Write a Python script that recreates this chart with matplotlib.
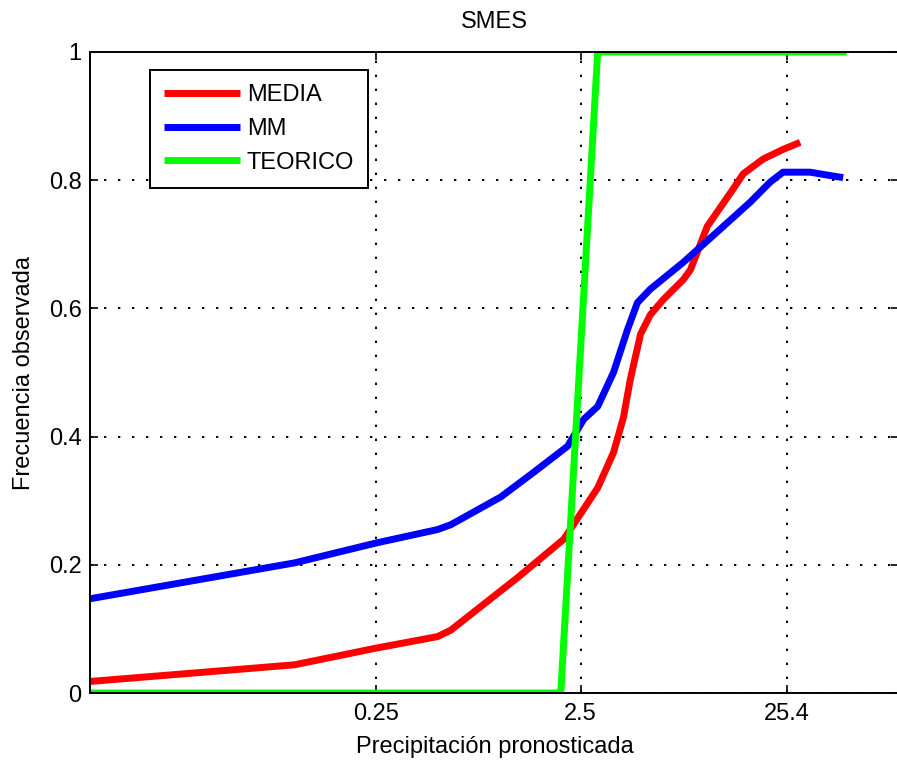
import matplotlib
matplotlib.use('Agg')
import matplotlib.pyplot as plt
from matplotlib.ticker import FixedLocator, FixedFormatter, NullLocator

plt.rcParams['font.family'] = ['Liberation Sans', 'DejaVu Sans']

# ---------------------- DATA
media_x = [0.01, 0.1, 0.25, 0.5, 0.58, 1.23, 2.07, 3.03, 3.62, 4.05, 4.38, 4.91,
           5.48, 6.35, 7.95, 8.6, 10.4, 13.9, 15.6, 19.5, 24.4, 29.6]
media_y = [0.018, 0.044, 0.07, 0.088, 0.098, 0.18, 0.24, 0.32, 0.375, 0.43, 0.49, 0.56,
           0.59, 0.614, 0.645, 0.66, 0.728, 0.786, 0.81, 0.833, 0.848, 0.859]

mm_x = [0.01, 0.1, 0.25, 0.5, 0.58, 1.02, 1.47, 2.16, 2.59, 3.03, 3.62, 4.24,
        4.74, 5.48, 7.95, 11.6, 16.9, 21.1, 24.4, 33.1, 40.1, 48]
mm_y = [0.147, 0.203, 0.234, 0.255, 0.2625, 0.306, 0.344, 0.385, 0.427, 0.447, 0.5, 0.567,
        0.609, 0.63, 0.672, 0.719, 0.766, 0.797, 0.8125, 0.8125, 0.808, 0.804]

teo_x = [0.01, 2.0, 3.03, 50]
teo_y = [0, 0, 1, 1]

xticks = [0.25, 2.5, 25.4]
xtick_labels = ['0.25', '2.5', '25.4']
yticks = [0, 0.2, 0.4, 0.6, 0.8, 1]
ytick_labels = ['0', '0.2', '0.4', '0.6', '0.8', '1']

FS = 17

# ---------------------- FIGURE
fig = plt.figure(figsize=(8.97, 7.61), dpi=100)
ax = fig.add_axes([90 / 897, 68 / 761, 809 / 897, 641 / 761])

ax.plot(media_x, media_y, color='#ff0000', lw=5, label='MEDIA', solid_capstyle='butt')
ax.plot(mm_x, mm_y, color='#0000ff', lw=5, label='MM', solid_capstyle='butt')
ax.plot(teo_x, teo_y, color='#00ff00', lw=5, label='TEORICO', solid_capstyle='butt')

ax.set_xscale('log')
ax.set_xlim(0.01, 90)
ax.set_ylim(0, 1)
ax.xaxis.set_major_locator(FixedLocator(xticks))
ax.xaxis.set_major_formatter(FixedFormatter(xtick_labels))
ax.xaxis.set_minor_locator(NullLocator())
ax.set_yticks(yticks)
ax.set_yticklabels(ytick_labels)

ax.tick_params(direction='in', length=6, width=1.2, labelsize=FS, top=True, right=True,
               colors='black')
ax.tick_params(axis='x', pad=7)
ax.tick_params(axis='y', pad=6)
ax.grid(True, color='black', linestyle=(0, (1.2, 6)), linewidth=1.4)

for s in ax.spines.values():
    s.set_linewidth(1.4)

ax.set_title('SMES', fontsize=FS, pad=17)
ax.set_xlabel('Precipitación pronosticada', fontsize=FS, labelpad=8)
ax.set_ylabel('Frecuencia observada', fontsize=FS, labelpad=10)

leg = ax.legend(loc='upper left', bbox_to_anchor=(0.074, 0.972), borderaxespad=0,
                fontsize=FS, handlelength=3.2, handletextpad=0.3, labelspacing=0.5,
                borderpad=0.6, fancybox=False, framealpha=1, edgecolor='black')
leg.get_frame().set_linewidth(1.4)

fig.savefig('out.png', dpi=100)
plt.close()
